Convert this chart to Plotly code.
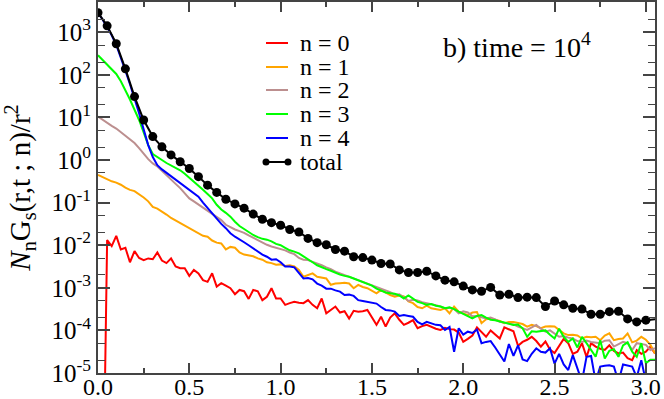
import plotly.graph_objects as go

# log10 of N_n G_s(r,t;n)/r^2, one value every 0.025 in r (0 .. 3.05)
n0_log = [-9, -9, -1.88, -2.02, -1.78, -2.10, -2.06, -2.40, -2.14, -2.30,
          -2.35, -2.31, -2.33, -2.17, -2.36, -2.42, -2.31, -2.50, -2.54, -2.54,
          -2.72, -2.58, -2.66, -2.82, -2.86, -2.66, -2.97, -2.89, -2.95, -3.01,
          -3.15, -3.05, -3.08, -3.26, -3.05, -3.08, -3.29, -3.21, -3.01, -3.25,
          -3.25, -3.40, -3.36, -3.33, -3.35, -3.36, -3.29, -3.40, -3.48, -3.25,
          -3.60, -3.52, -3.44, -3.58, -3.55, -3.72, -3.54, -3.56, -3.55, -3.52,
          -3.70, -3.87, -3.68, -3.91, -3.70, -3.60, -3.75, -3.87, -3.82, -3.76,
          -3.95, -3.90, -3.87, -3.92, -3.96, -3.99, -3.94, -3.97, -3.98, -4.05,
          -4.27, -4.20, -4.12, -3.93, -4.05, -4.15, -4.00, -4.10, -4.19, -3.93,
          -3.97, -4.02, -4.36, -4.27, -4.22, -4.15, -4.25, -4.38, -4.26, -4.45,
          -4.53, -4.38, -4.20, -4.30, -4.55, -4.50, -4.30, -4.62, -4.30, -4.38,
          -4.43, -4.46, -4.35, -4.48, -4.54, -4.52, -4.65, -4.70, -4.46, -4.55,
          -4.50, -4.38, -4.54]

n1_log = [-0.35, -0.40, -0.46, -0.50, -0.53, -0.58, -0.65, -0.70, -0.73, -0.80,
          -0.88, -0.97, -1.10, -1.14, -1.20, -1.28, -1.36, -1.42, -1.49, -1.54,
          -1.59, -1.66, -1.72, -1.78, -1.80, -1.89, -1.94, -1.96, -2.10, -2.04,
          -2.06, -2.17, -2.22, -2.24, -2.26, -2.31, -2.34, -2.40, -2.42, -2.46,
          -2.45, -2.49, -2.47, -2.50, -2.58, -2.74, -2.70, -2.66, -2.74, -2.76,
          -2.78, -2.93, -2.90, -2.89, -2.88, -2.90, -3.01, -2.93, -2.98, -3.01,
          -3.08, -3.13, -3.05, -3.12, -3.17, -3.21, -3.18, -3.20, -3.32, -3.36,
          -3.45, -3.48, -3.42, -3.48, -3.50, -3.52, -3.48, -3.60, -3.44, -3.56,
          -3.60, -3.64, -3.58, -3.57, -3.83, -3.74, -3.72, -3.75, -3.78, -3.83,
          -3.80, -3.80, -3.83, -3.85, -3.91, -3.87, -3.90, -3.95, -3.91, -3.90,
          -3.91, -3.98, -4.07, -4.11, -4.10, -4.12, -4.19, -4.15, -4.16, -4.15,
          -4.23, -4.12, -4.07, -4.23, -4.20, -4.19, -4.07, -4.28, -4.24, -4.15,
          -4.22, -4.34, -4.54]

n2_log = [1.02, 0.94, 0.86, 0.80, 0.74, 0.65, 0.56, 0.48, 0.40, 0.28,
          0.14, 0.02, -0.08, -0.15, -0.25, -0.36, -0.47, -0.56, -0.66, -0.78,
          -0.90, -0.97, -1.04, -1.11, -1.19, -1.27, -1.34, -1.41, -1.52, -1.58,
          -1.63, -1.67, -1.71, -1.77, -1.83, -1.88, -1.93, -1.99, -2.03, -2.06,
          -2.09, -2.12, -2.17, -2.21, -2.30, -2.34, -2.35, -2.39, -2.42, -2.47,
          -2.52, -2.56, -2.62, -2.66, -2.70, -2.74, -2.77, -2.81, -2.86, -2.90,
          -2.93, -2.97, -3.01, -3.06, -3.10, -3.16, -3.15, -3.22, -3.31, -3.28,
          -3.30, -3.34, -3.36, -3.38, -3.41, -3.44, -3.48, -3.47, -3.50, -3.60,
          -3.55, -3.58, -3.67, -3.66, -3.69, -3.72, -3.70, -3.74, -3.80, -3.82,
          -3.83, -3.86, -3.91, -3.95, -3.99, -3.93, -3.87, -3.96, -4.03, -4.00,
          -4.08, -4.15, -4.13, -4.17, -4.19, -4.25, -4.27, -4.24, -4.27, -4.28,
          -4.30, -4.24, -4.23, -4.38, -4.33, -4.27, -4.30, -4.46, -4.30, -4.32,
          -4.34, -4.46, -4.42]

n3_log = [2.46, 2.35, 2.24, 2.13, 2.02, 1.85, 1.65, 1.42, 1.18, 0.94,
          0.65, 0.35, 0.14, 0.06, 0.00, -0.07, -0.13, -0.19, -0.24, -0.32,
          -0.41, -0.50, -0.60, -0.70, -0.80, -0.90, -1.05, -1.16, -1.24, -1.33,
          -1.45, -1.55, -1.62, -1.70, -1.76, -1.81, -1.85, -1.87, -1.91, -1.97,
          -2.00, -2.06, -2.12, -2.15, -2.19, -2.26, -2.34, -2.40, -2.47, -2.52,
          -2.56, -2.60, -2.65, -2.69, -2.72, -2.74, -2.78, -2.82, -2.86, -2.91,
          -2.95, -3.02, -3.07, -3.11, -3.13, -3.14, -3.18, -3.25, -3.18, -3.25,
          -3.33, -3.36, -3.40, -3.38, -3.42, -3.44, -3.48, -3.46, -3.50, -3.56,
          -3.62, -3.66, -3.72, -3.66, -3.64, -3.70, -3.75, -3.76, -3.79, -3.81,
          -3.85, -3.87, -3.86, -3.95, -4.15, -4.02, -4.03, -4.02, -4.00, -4.10,
          -4.19, -3.96, -4.15, -4.27, -4.19, -4.40, -4.15, -4.30, -4.46, -4.62,
          -4.23, -4.66, -4.48, -4.44, -4.62, -4.35, -4.28, -4.50, -4.62, -4.30,
          -4.77, -4.69, -4.69]

n4_log = [3.45, 3.30, 3.12, 2.93, 2.70, 2.42, 2.10, 1.78, 1.45, 1.10,
          0.72, 0.35, 0.07, -0.12, -0.22, -0.30, -0.38, -0.47, -0.54, -0.64,
          -0.70, -0.79, -0.86, -1.00, -1.13, -1.26, -1.39, -1.50, -1.60, -1.72,
          -1.80, -1.86, -1.93, -2.00, -2.08, -2.15, -2.22, -2.27, -2.34, -2.33,
          -2.40, -2.50, -2.50, -2.52, -2.66, -2.78, -2.77, -2.80, -2.90, -2.95,
          -3.02, -3.02, -3.06, -3.09, -3.17, -3.16, -3.19, -3.29, -3.31, -3.33,
          -3.35, -3.37, -3.45, -3.52, -3.53, -3.56, -3.66, -3.64, -3.66, -3.68,
          -3.80, -3.86, -3.80, -3.84, -3.87, -3.88, -3.99, -3.92, -4.50, -3.95,
          -4.10, -4.03, -4.06, -3.98, -4.30, -4.27, -4.25, -4.40, -4.55, -4.73,
          -4.32, -4.60, -4.35, -4.68, -4.72, -4.55, -4.42, -4.50, -4.52, -4.42,
          -4.78, -4.55, -4.80, -4.93, -4.58, -4.90, -5.20, -4.62, -4.60, -5.20,
          -4.85, -4.83, -4.82, -4.85, -5.20, -4.80, -4.82, -4.85, -5.10, -4.70,
          -5.20, -5.20, -5.20]

# total, one value every 0.05 in r (0 .. 3.0) plus the edge at 3.05
total_log = [3.46, 3.15, 2.73, 2.14, 1.49, 0.94, 0.55, 0.31, 0.12, -0.04,
             -0.20, -0.39, -0.59, -0.76, -0.92, -1.03, -1.13, -1.27, -1.39, -1.47,
             -1.53, -1.63, -1.69, -1.84, -1.94, -1.99, -2.10, -2.14, -2.27, -2.29,
             -2.35, -2.43, -2.44, -2.58, -2.64, -2.64, -2.61, -2.72, -2.82, -2.86,
             -2.96, -3.05, -3.08, -2.99, -3.17, -3.15, -3.23, -3.22, -3.23, -3.44,
             -3.31, -3.40, -3.48, -3.50, -3.62, -3.62, -3.56, -3.55, -3.73, -3.80,
             -3.76, -3.74]

r_fine = [round(i * 0.025, 3) for i in range(len(n0_log))]
r_coarse = [round(i * 0.05, 2) for i in range(len(total_log))]

series = [
    ("n = 0", n0_log, "#ff0000"),
    ("n = 1", n1_log, "#ffa500"),
    ("n = 2", n2_log, "#bc8f8f"),
    ("n = 3", n3_log, "#00ff00"),
    ("n = 4", n4_log, "#0000ff"),
]

FONT = "Liberation Serif, Times New Roman, Times, serif"
AXIS_COLOR = "#444444"

fig = go.Figure()
for name, logs, color in series:
    fig.add_trace(go.Scatter(
        x=r_fine, y=[10 ** v for v in logs], mode="lines", name=name,
        line=dict(color=color, width=2), showlegend=False,
    ))

marker_sizes = [9] * (len(total_log) - 1) + [0]
fig.add_trace(go.Scatter(
    x=r_coarse, y=[10 ** v for v in total_log], mode="lines+markers", name="total",
    line=dict(color="black", width=2),
    marker=dict(color="black", size=marker_sizes, opacity=1, line=dict(width=0)),
    showlegend=False,
))

# hand-drawn legend (row spacing is tighter than plotly's own legend allows)
legend_names = [s[0] for s in series] + ["total"]
legend_colors = [s[2] for s in series] + ["black"]
row_px = [43, 67, 90, 114, 138, 162]
plot_l, plot_r, plot_t, plot_b = 98, 655, 2, 373


def px_x(p):
    return (p - plot_l) / (plot_r - plot_l)


def px_y(p):
    return (plot_b - p) / (plot_b - plot_t)


shapes = []
annotations = []
for name, color, ypx in zip(legend_names, legend_colors, row_px):
    yp = px_y(ypx)
    shapes.append(dict(type="line", xref="paper", yref="paper",
                       x0=px_x(266), x1=px_x(288), y0=yp, y1=yp,
                       line=dict(color=color, width=2)))
    if name == "total":
        for cx in (266, 288):
            shapes.append(dict(type="circle", xref="paper", yref="paper",
                               xsizemode="pixel", ysizemode="pixel",
                               xanchor=px_x(cx), yanchor=yp,
                               x0=-3.5, x1=3.5, y0=-3.5, y1=3.5,
                               fillcolor="black", line=dict(color="black", width=0)))
    annotations.append(dict(text=name, xref="paper", yref="paper",
                            x=px_x(299), y=yp, xanchor="left", yanchor="middle",
                            showarrow=False, borderpad=0,
                            font=dict(family=FONT, size=24, color="black")))

annotations.append(dict(text="b) time = 10<sup>4</sup>", xref="paper", yref="paper",
                        x=px_x(441), y=px_y(46), xanchor="left", yanchor="middle",
                        showarrow=False, font=dict(family=FONT, size=28, color="black")))

ytick_vals = [10 ** p for p in range(-5, 4)]
ytick_text = ["10<sup>%d</sup>" % p for p in range(-5, 4)]

fig.update_layout(
    width=664, height=399,
    margin=dict(l=plot_l, r=664 - plot_r, t=plot_t, b=399 - plot_b),
    paper_bgcolor="white", plot_bgcolor="white",
    font=dict(family=FONT, size=24, color="black"),
    shapes=shapes, annotations=annotations,
    xaxis=dict(
        range=[0, 3.05], tickvals=[0, 0.5, 1.0, 1.5, 2.0, 2.5, 3.0],
        ticktext=["0.0", "0.5", "1.0", "1.5", "2.0", "2.5", "3.0"],
        ticks="inside", ticklen=10, tickwidth=1.5, tickcolor=AXIS_COLOR,
        minor=dict(dtick=0.25, tick0=0, ticks="inside", ticklen=5, tickwidth=1.5,
                   tickcolor=AXIS_COLOR, showgrid=False),
        showline=True, linecolor=AXIS_COLOR, linewidth=2, mirror="allticks",
        showgrid=False, zeroline=False, automargin=False,
        ticklabelstandoff=-9,
        tickfont=dict(family=FONT, size=24),
    ),
    yaxis=dict(
        type="log", range=[-5, 3.71],
        tickvals=ytick_vals, ticktext=ytick_text,
        ticks="inside", ticklen=12, tickwidth=1.5, tickcolor=AXIS_COLOR,
        minor=dict(ticks="inside", ticklen=7, tickwidth=1, tickcolor=AXIS_COLOR,
                   showgrid=False),
        showline=True, linecolor=AXIS_COLOR, linewidth=2, mirror="allticks",
        showgrid=False, zeroline=False, automargin=False,
        tickfont=dict(family=FONT, size=25),
        title=dict(text="<i>N</i><sub>n</sub>G<sub>s</sub>(r,t ; n)/r<sup>2</sup>",
                   font=dict(family=FONT, size=29), standoff=12),
    ),
)

# the page's default body margin would shift the figure by 8px
fig.write_html("out.html", config={"displayModeBar": False},
               post_script="document.body.style.margin = '0px';")
